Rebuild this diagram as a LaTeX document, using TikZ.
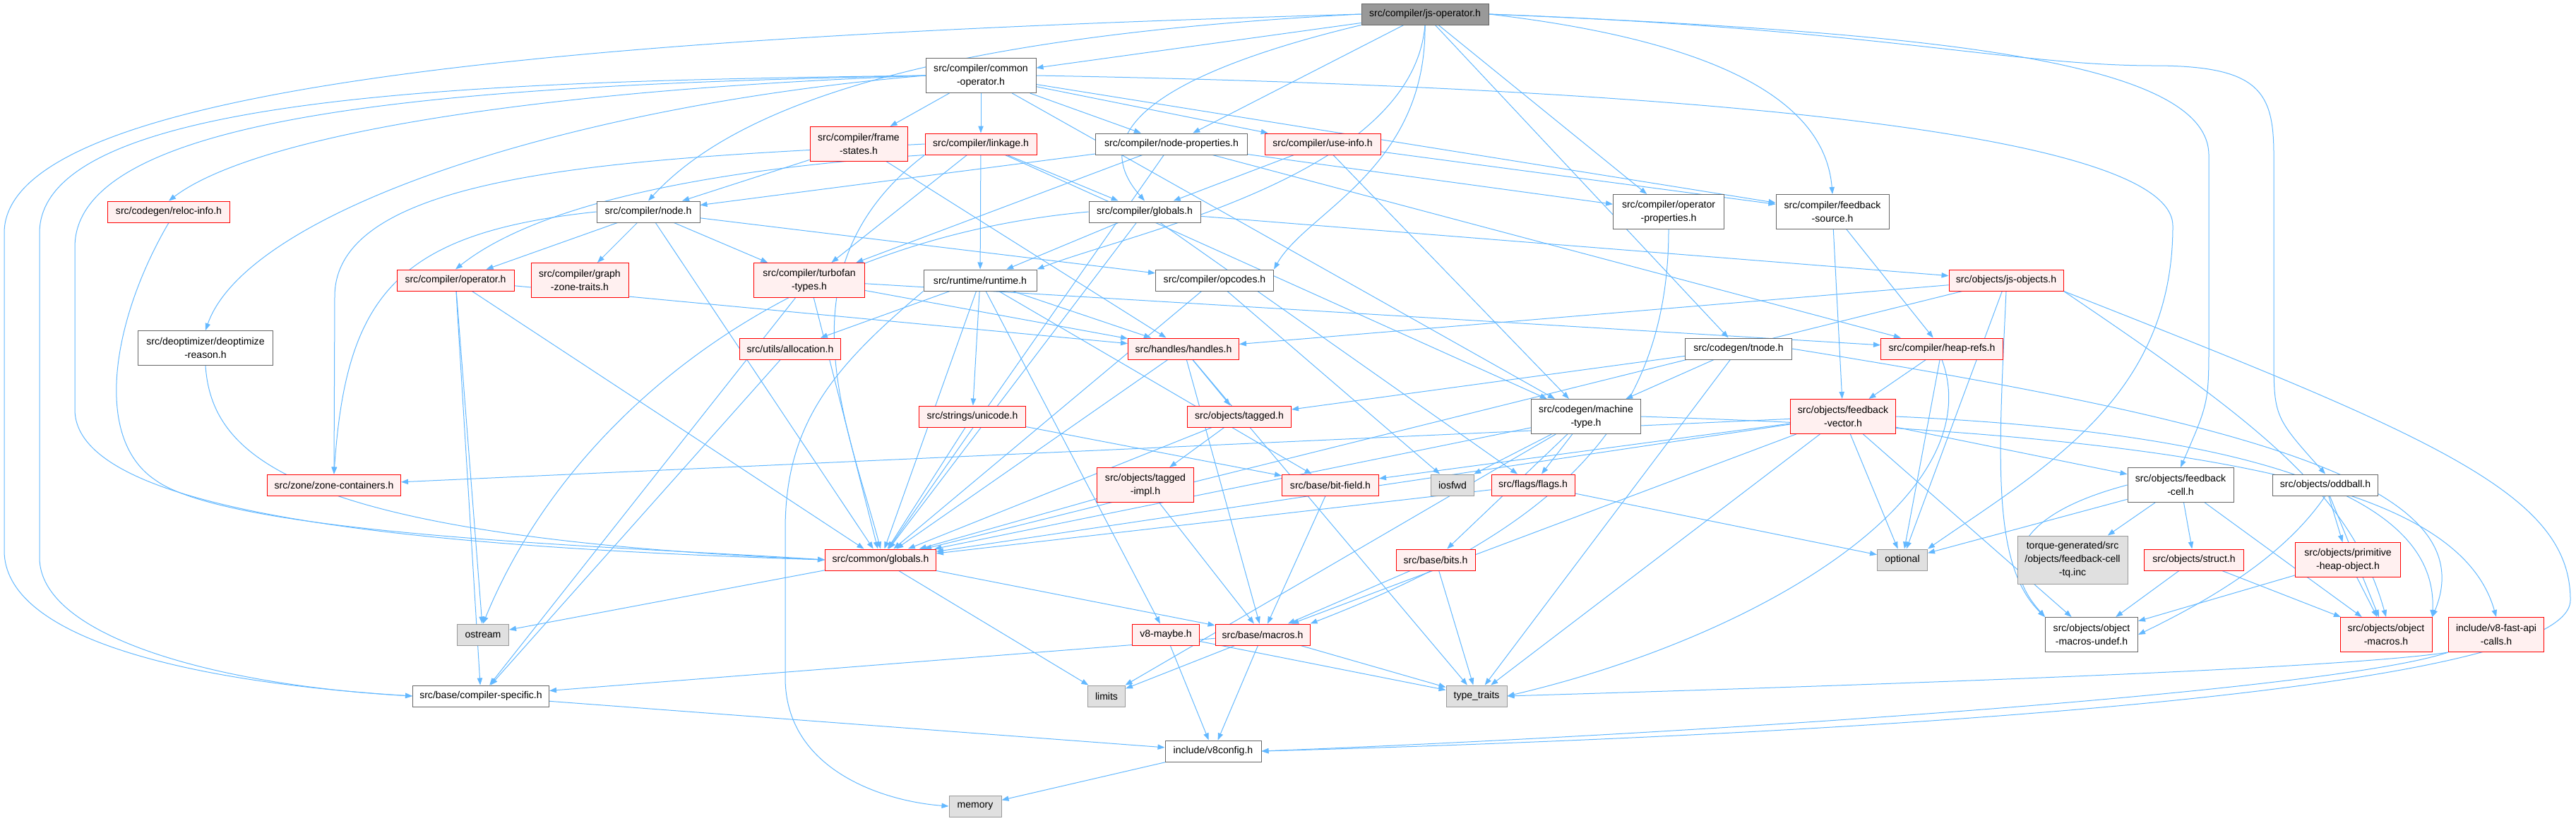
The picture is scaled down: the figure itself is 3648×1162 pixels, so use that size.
\documentclass[tikz,border=0pt]{standalone}
\usepackage{fontspec}
\setmainfont{Liberation Sans}
\usetikzlibrary{arrows.meta}
\definecolor{edgeblue}{RGB}{99,184,255}
\definecolor{redfill}{RGB}{255,240,240}
\definecolor{sysfill}{RGB}{224,224,224}
\pgfdeclarelayer{bg}
\pgfsetlayers{bg,main}
\tikzset{
  hdr/.style={rectangle, draw=black!60, fill=white, line width=0.3mm, minimum height=9mm, inner sep=1mm, align=center, font=\fontsize{12}{16}\selectfont},
  hdrred/.style={hdr, draw=red, fill=redfill},
  hdrsys/.style={hdr, draw=black!40, fill=sysfill},
  hdrroot/.style={hdr, draw=black!60, fill=black!40},
  lines2/.style={minimum height=14.7mm},
  lines3/.style={minimum height=20.4mm},
  wd/.style={minimum width=#1*0.3mm},
  dep/.style={-{Triangle[length=3mm,width=2.2mm]}, draw=edgeblue, line width=0.3mm}
}

\begin{document}
\begin{tikzpicture}[x=0.03cm, y=-0.03cm]
\useasboundingbox (0,0) rectangle (3648,1162);

% Raiz
\node[hdrroot, wd=180] (jsop) at (2018,20) {src/compiler/js-operator.h};

% Nivel 1
\node[hdr, lines2, wd=156] (cmnop) at (1389,107) {src/compiler/common\\-operator.h};

% Nivel 2
\node[hdrred, lines2, wd=138] (frames) at (1216,204) {src/compiler/frame\\-states.h};
\node[hdrred, wd=158] (linkage) at (1389,204) {src/compiler/linkage.h};
\node[hdr, wd=215] (nprops) at (1659,204) {src/compiler/node-properties.h};
\node[hdrred, wd=164] (useinfo) at (1873,204) {src/compiler/use-info.h};

% Nivel 3
\node[hdrred, wd=173] (reloc) at (239,300) {src/codegen/reloc-info.h};
\node[hdr, wd=146] (node) at (918,300) {src/compiler/node.h};
\node[hdr, wd=158] (cglob) at (1621,300) {src/compiler/globals.h};
\node[hdr, lines2, wd=157] (opprops) at (2363,300) {src/compiler/operator\\-properties.h};
\node[hdr, lines2, wd=160] (fbsrc) at (2595,300) {src/compiler/feedback\\-source.h};

% Nivel 4
\node[hdrred, wd=166] (oper) at (645,397) {src/compiler/operator.h};
\node[hdrred, lines2, wd=138] (gzt) at (821,397) {src/compiler/graph\\-zone-traits.h};
\node[hdrred, lines2, wd=157] (tftypes) at (1146,397) {src/compiler/turbofan\\-types.h};
\node[hdr, wd=160] (runtime) at (1388,397) {src/runtime/runtime.h};
\node[hdr, wd=167] (opcodes) at (1720,397) {src/compiler/opcodes.h};
\node[hdrred, wd=162] (jsobj) at (2841,397) {src/objects/js-objects.h};

% Nivel 5
\node[hdr, lines2, wd=191] (deopt) at (291,493) {src/deoptimizer/deoptimize\\-reason.h};
\node[hdrred, wd=143] (alloc) at (1119,494) {src/utils/allocation.h};
\node[hdrred, wd=157] (handles) at (1676,494) {src/handles/handles.h};
\node[hdr, wd=151] (tnode) at (2462,494) {src/codegen/tnode.h};
\node[hdrred, wd=173] (heaprefs) at (2750,494) {src/compiler/heap-refs.h};

% Nivel 6
\node[hdrred, wd=151] (unicode) at (1377,590) {src/strings/unicode.h};
\node[hdrred, wd=147] (tagged) at (1755,590) {src/objects/tagged.h};
\node[hdr, lines2, wd=155] (machtype) at (2246,590) {src/codegen/machine\\-type.h};
\node[hdrred, lines2, wd=149] (fbvec) at (2610,590) {src/objects/feedback\\-vector.h};

% Nivel 7
\node[hdrred, wd=189] (zonecont) at (473,687) {src/zone/zone-containers.h};
\node[hdrred, lines2, wd=137] (taggedimpl) at (1622,687) {src/objects/tagged\\-impl.h};
\node[hdrred, wd=137] (bitfield) at (1884,687) {src/base/bit-field.h};
\node[hdrsys, wd=61] (iosfwd) at (2057,687) {iosfwd};
\node[hdrred, wd=118] (flags) at (2171,687) {src/flags/flags.h};
\node[hdr, lines2, wd=150] (fbcell) at (3088,687) {src/objects/feedback\\-cell.h};
\node[hdr, wd=149] (oddball) at (3293,687) {src/objects/oddball.h};

% Nivel 8
\node[hdrred, wd=157] (globals) at (1247,793) {src/common/globals.h};
\node[hdrred, wd=112] (bits) at (2033,793) {src/base/bits.h};
\node[hdrsys, wd=71] (optional) at (2694,793) {optional};
\node[hdrsys, lines3, wd=156] (torque) at (2935,793) {torque-generated/src\\/objects/feedback-cell\\-tq.inc};
\node[hdrred, wd=141] (struct) at (3107,793) {src/objects/struct.h};
\node[hdrred, lines2, wd=149] (primheap) at (3325,793) {src/objects/primitive\\-heap-object.h};

% Nivel 9
\node[hdrsys, wd=73] (ostream) at (684,899) {ostream};
\node[hdrred, wd=95] (maybe) at (1651,899) {v8-maybe.h};
\node[hdrred, wd=134] (macros) at (1788,899) {src/base/macros.h};
\node[hdr, lines2, wd=131] (omundef) at (2962,899) {src/objects/object\\-macros-undef.h};
\node[hdrred, lines2, wd=130] (omacros) at (3379,899) {src/objects/object\\-macros.h};
\node[hdrred, lines2, wd=135] (fastapi) at (3535,899) {include/v8-fast-api\\-calls.h};

% Nivel 10-11
\node[hdr, wd=193] (compspec) at (681,986) {src/base/compiler-specific.h};
\node[hdrsys, wd=53] (limits) at (1567,986) {limits};
\node[hdrsys, wd=86] (typetraits) at (2091,986) {type\_traits};
\node[hdr, wd=136] (v8config) at (1718,1064) {include/v8config.h};
\node[hdrsys, wd=74] (memory) at (1381,1142) {memory};

\begin{pgfonlayer}{bg}
% js-operator.h
\draw[dep] (jsop) -- (cmnop);
\draw[dep] (jsop.west) .. controls (900,50) and (6,110) .. (6,330) -- (6,780) .. controls (6,900) and (250,965) .. (compspec.west);
\draw[dep] (jsop.west) .. controls (1350,50) and (1050,140) .. (node.north);
\draw[dep] (jsop) -- (nprops);
\draw[dep] (jsop.south west) .. controls (1700,90) and (1520,170) .. (cglob.north);
\draw[dep] (jsop.south) .. controls (2020,240) and (1850,300) .. (opcodes.north east);
\draw[dep] (jsop) -- (opprops);
\draw[dep] (jsop.east) .. controls (2450,60) and (2585,150) .. (fbsrc.north);
\draw[dep] (jsop) -- (tnode);
\draw[dep] (jsop.south) .. controls (2000,250) and (1600,330) .. (runtime.north east);
\draw[dep] (jsop.east) .. controls (2700,45) and (3128,80) .. (3128,220) -- (3128,480) .. controls (3128,570) .. (fbcell.north);
\draw[dep] (jsop.east) .. controls (2650,40) and (2850,93) .. (3050,93) .. controls (3200,93) and (3220,130) .. (3220,220) -- (3220,500) .. controls (3220,590) .. (oddball.north);

% common-operator.h
\draw[dep] (cmnop.west) .. controls (700,115) and (56,130) .. (56,330) -- (56,790) .. controls (56,900) and (300,970) .. (compspec.west);
\draw[dep] (cmnop.west) .. controls (700,120) and (106,150) .. (106,350) -- (106,580) .. controls (106,730) and (600,775) .. (globals.west);
\draw[dep] (cmnop.west) .. controls (700,130) and (350,200) .. (reloc.north);
\draw[dep] (cmnop.west) .. controls (800,150) and (350,300) .. (deopt.north);
\draw[dep] (cmnop) -- (frames);
\draw[dep] (cmnop) -- (linkage);
\draw[dep] (cmnop) -- (nprops);
\draw[dep] (cmnop) -- (useinfo);
\draw[dep] (cmnop) -- (fbsrc);
\draw[dep] (cmnop) -- (machtype);
\draw[dep] (cmnop.east) .. controls (2200,120) and (3077,170) .. (3077,320) .. controls (3077,560) and (2900,660) .. (optional.north east);

% frame-states.h
\draw[dep] (frames) -- (node);
\draw[dep] (frames) -- (handles);

% linkage.h
\draw[dep] (linkage.south west) .. controls (1000,240) and (760,290) .. (oper.north);
\draw[dep] (linkage.west) .. controls (900,225) and (474,240) .. (474,420) -- (zonecont.north);
\draw[dep] (linkage) -- (tftypes);
\draw[dep] (linkage) -- (runtime);
\draw[dep] (linkage) -- (cglob);
\draw[dep] (linkage.south west) .. controls (1100,380) and (1200,600) .. (globals.north);
\draw[dep] (linkage) -- (machtype);

% node-properties.h
\draw[dep] (nprops) -- (node);
\draw[dep] (nprops) -- (tftypes);
\draw[dep] (nprops) -- (globals);
\draw[dep] (nprops) -- (opprops);
\draw[dep] (nprops) -- (heaprefs);

% use-info.h
\draw[dep] (useinfo) -- (cglob);
\draw[dep] (useinfo) -- (fbsrc);
\draw[dep] (useinfo) -- (machtype);

% reloc-info.h, deoptimize-reason.h
\draw[dep] (reloc.south) .. controls (160,450) and (130,620) .. (220,680) .. controls (330,760) and (900,775) .. (globals.west);
\draw[dep] (deopt.south) .. controls (300,650) and (420,760) .. (globals.west);

% node.h
\draw[dep] (node) -- (oper);
\draw[dep] (node) -- (gzt);
\draw[dep] (node) -- (tftypes);
\draw[dep] (node) -- (opcodes);
\draw[dep] (node) -- (globals);
\draw[dep] (node.west) .. controls (560,330) and (490,420) .. (zonecont.north);

% compiler/globals.h
\draw[dep] (cglob) -- (runtime);
\draw[dep] (cglob) -- (jsobj);
\draw[dep] (cglob) -- (flags);
\draw[dep] (cglob) -- (globals);
\draw[dep] (cglob.west) .. controls (1100,340) and (800,600) .. (ostream.north);

% operator-properties.h, feedback-source.h
\draw[dep] (opprops.south) .. controls (2363,600) and (2200,750) .. (macros.north east);
\draw[dep] (fbsrc) -- (heaprefs);
\draw[dep] (fbsrc) -- (fbvec);

% compiler/operator.h
\draw[dep] (oper) -- (ostream);
\draw[dep] (oper) -- (compspec);
\draw[dep] (oper) -- (globals);
\draw[dep] (oper) -- (handles);

% turbofan-types.h
\draw[dep] (tftypes) -- (handles);
\draw[dep] (tftypes) -- (globals);
\draw[dep] (tftypes) -- (compspec);
\draw[dep] (tftypes) -- (heaprefs);

% runtime.h
\draw[dep] (runtime) -- (alloc);
\draw[dep] (runtime) -- (unicode);
\draw[dep] (runtime) -- (handles);
\draw[dep] (runtime) -- (globals);
\draw[dep] (runtime) -- (maybe);
\draw[dep] (runtime.south west) .. controls (1180,520) and (1112,600) .. (1112,750) -- (1112,960) .. controls (1112,1090) and (1250,1135) .. (memory.west);
\draw[dep] (runtime) -- (bitfield);

% opcodes.h
\draw[dep] (opcodes) -- (iosfwd);
\draw[dep] (opcodes) -- (globals);

% js-objects.h
\draw[dep] (jsobj) -- (handles);
\draw[dep] (jsobj) -- (globals);
\draw[dep] (jsobj) -- (optional);
\draw[dep] (jsobj.south) .. controls (2830,650) and (2820,800) .. (omundef.north west);
\draw[dep] (jsobj.south east) .. controls (3200,600) and (3330,700) .. (omacros.north);
\draw[dep] (jsobj.south east) .. controls (3450,620) and (3640,700) .. (3640,850) .. controls (3640,1000) and (2300,1050) .. (v8config.east);

% allocation.h, handles.h
\draw[dep] (alloc) -- (compspec);
\draw[dep] (handles) -- (tagged);
\draw[dep] (handles) -- (globals);
\draw[dep] (handles) -- (macros);
\draw[dep] (handles) -- (typetraits);

% tnode.h
\draw[dep] (tnode) -- (machtype);
\draw[dep] (tnode) -- (tagged);
\draw[dep] (tnode) -- (typetraits);
\draw[dep] (tnode.east) .. controls (3200,600) and (3520,690) .. (omacros.north east);

% heap-refs.h
\draw[dep] (heaprefs) -- (fbvec);
\draw[dep] (heaprefs) -- (optional);
\draw[dep] (heaprefs.south) .. controls (2820,700) and (2500,900) .. (typetraits.east);

% unicode.h, tagged.h
\draw[dep] (unicode) -- (globals);
\draw[dep] (unicode) -- (bitfield);
\draw[dep] (tagged) -- (globals);
\draw[dep] (tagged) -- (taggedimpl);

% machine-type.h
\draw[dep] (machtype) -- (iosfwd);
\draw[dep] (machtype) -- (flags);
\draw[dep] (machtype) -- (globals);
\draw[dep] (machtype) -- (bits);
\draw[dep] (machtype) -- (limits);
\draw[dep] (machtype.east) .. controls (3100,615) and (3480,680) .. (fastapi.north);

% feedback-vector.h
\draw[dep] (fbvec) -- (globals);
\draw[dep] (fbvec) -- (macros);
\draw[dep] (fbvec) -- (zonecont);
\draw[dep] (fbvec) -- (bitfield);
\draw[dep] (fbvec) -- (fbcell);
\draw[dep] (fbvec) -- (optional);
\draw[dep] (fbvec) -- (omundef);
\draw[dep] (fbvec.east) .. controls (3350,620) and (3450,760) .. (omacros.north east);
\draw[dep] (fbvec) -- (typetraits);

% tagged-impl.h, bit-field.h, flags.h
\draw[dep] (taggedimpl) -- (globals);
\draw[dep] (taggedimpl) -- (macros);
\draw[dep] (bitfield) -- (macros);
\draw[dep] (flags) -- (globals);
\draw[dep] (flags) -- (optional);

% feedback-cell.h, oddball.h
\draw[dep] (fbcell) -- (torque);
\draw[dep] (fbcell) -- (struct);
\draw[dep] (fbcell) -- (omacros);
\draw[dep] (fbcell.west) .. controls (2850,730) and (2830,800) .. (omundef.north west);
\draw[dep] (fbcell) -- (optional);
\draw[dep] (oddball) -- (primheap);
\draw[dep] (oddball) -- (omacros);
\draw[dep] (oddball.south) .. controls (3240,780) and (3150,840) .. (omundef.east);

% struct.h, primitive-heap-object.h
\draw[dep] (struct) -- (omundef);
\draw[dep] (struct) -- (omacros);
\draw[dep] (primheap) -- (omundef);
\draw[dep] (primheap) -- (omacros);

% common/globals.h, bits.h, v8-maybe.h, macros.h
\draw[dep] (globals) -- (ostream);
\draw[dep] (globals) -- (limits);
\draw[dep] (globals) -- (macros);
\draw[dep] (bits) -- (macros);
\draw[dep] (bits) -- (typetraits);
\draw[dep] (maybe) -- (v8config);
\draw[dep] (maybe) -- (typetraits);
\draw[dep] (macros) -- (compspec);
\draw[dep] (macros) -- (limits);
\draw[dep] (macros) -- (v8config);
\draw[dep] (macros) -- (typetraits);

% v8-fast-api-calls.h, compiler-specific.h, v8config.h
\draw[dep] (fastapi.south west) .. controls (3300,950) and (2500,975) .. (typetraits.east);
\draw[dep] (fastapi.south west) .. controls (3300,980) and (2400,1040) .. (v8config.east);
\draw[dep] (compspec) -- (v8config);
\draw[dep] (v8config) -- (memory);
\end{pgfonlayer}

\end{tikzpicture}
\end{document}
